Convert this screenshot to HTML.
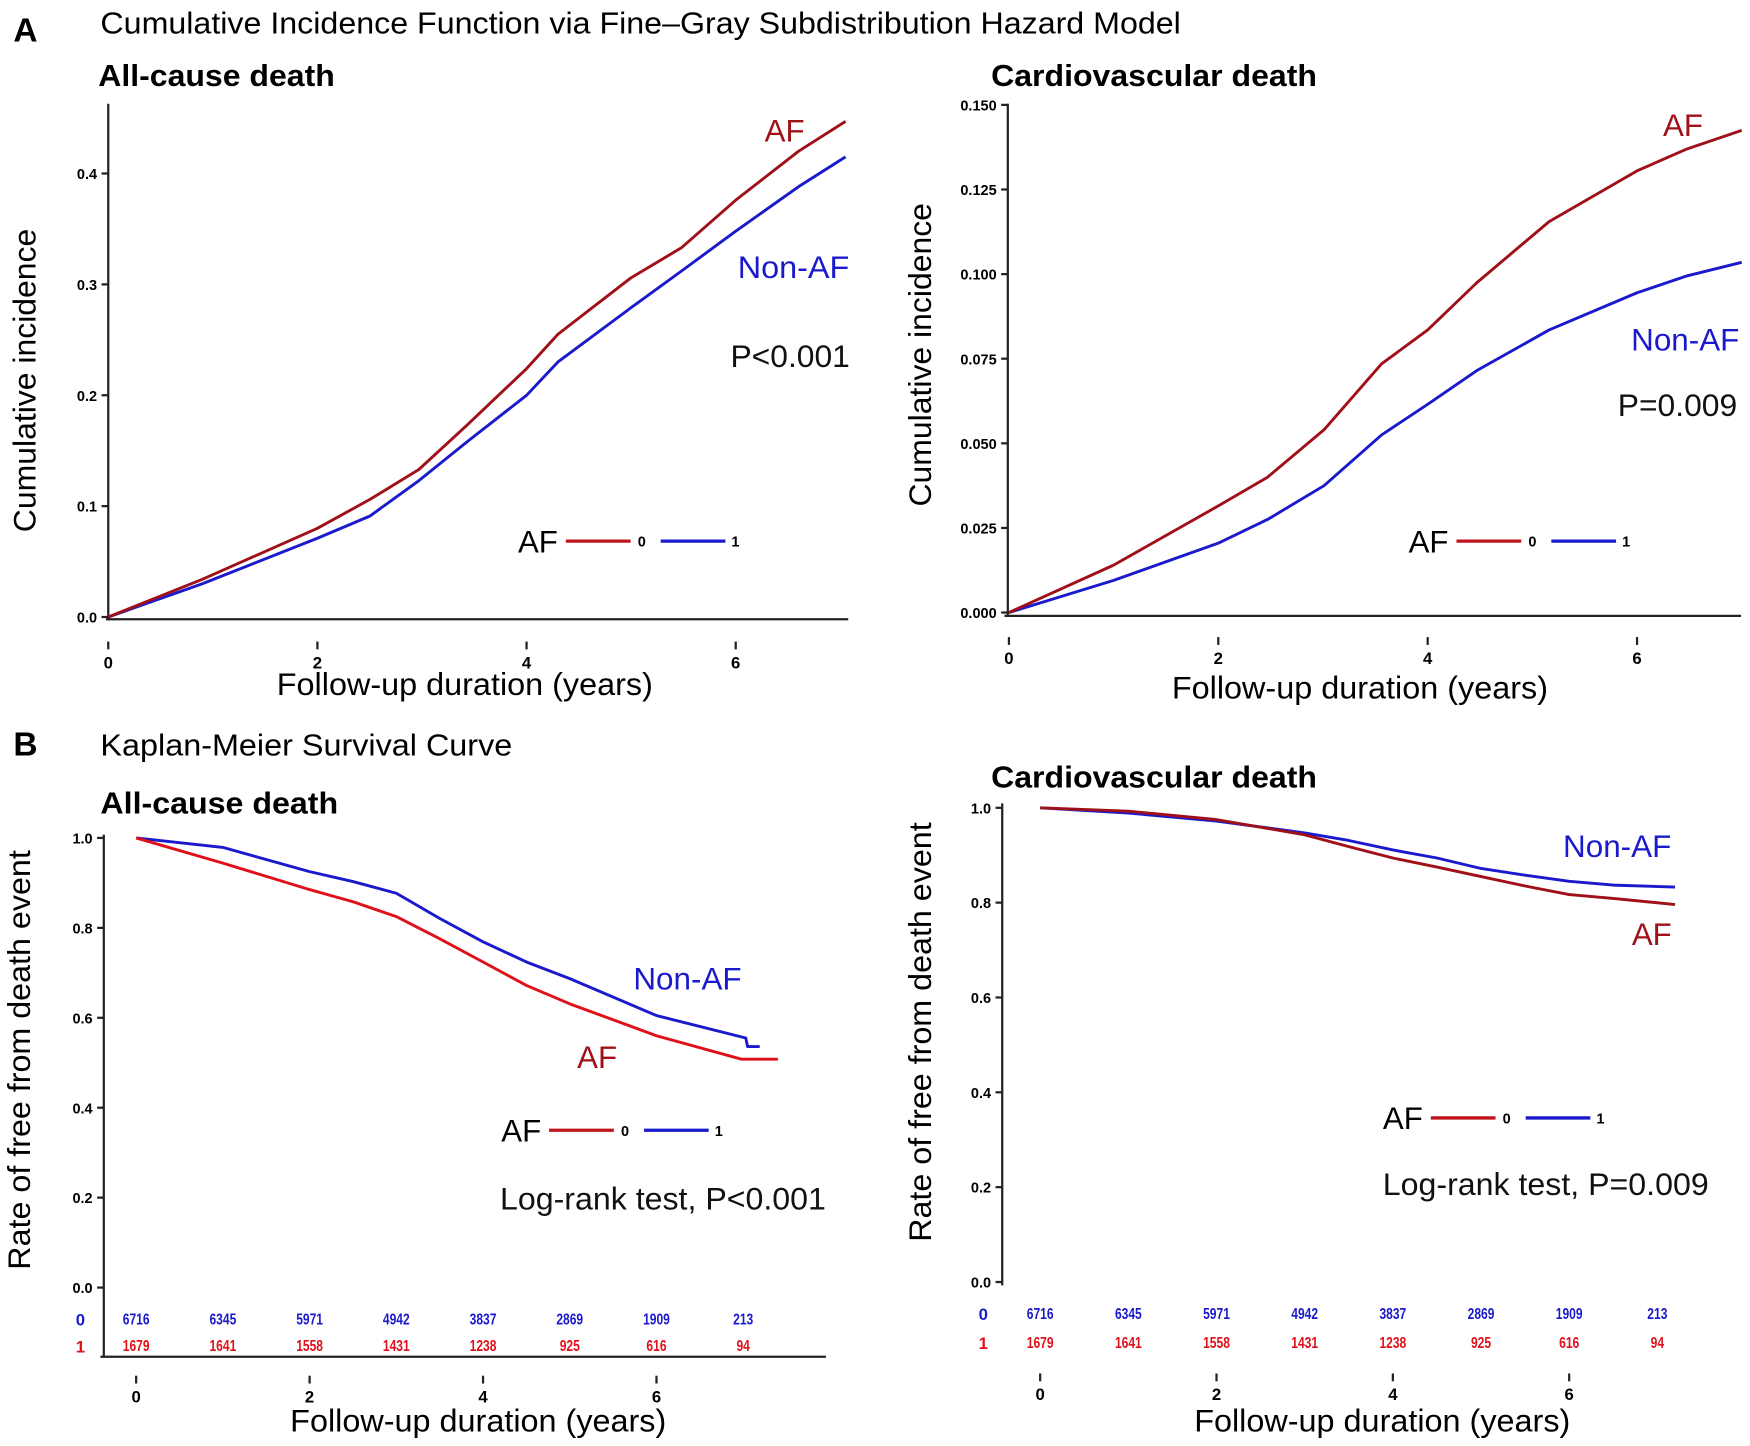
<!DOCTYPE html>
<html><head><meta charset="utf-8"><style>
html,body{margin:0;padding:0;background:#fff;}
svg{display:block;font-family:"Liberation Sans",Arial,sans-serif;}
</style></head><body>
<svg id="fig" width="1750" height="1446" viewBox="0 0 1568 1296" preserveAspectRatio="none">
<text x="12" y="37" font-size="30" font-weight="bold">A</text>
<text x="90" y="30" font-size="27" textLength="968" lengthAdjust="spacingAndGlyphs">Cumulative Incidence Function via Fine–Gray Subdistribution Hazard Model</text>
<text x="88" y="77" font-size="27" font-weight="bold" textLength="212" lengthAdjust="spacingAndGlyphs">All-cause death</text>
<text x="888" y="77" font-size="27" font-weight="bold" textLength="292" lengthAdjust="spacingAndGlyphs">Cardiovascular death</text>
<text x="12" y="677" font-size="30" font-weight="bold">B</text>
<text x="90" y="677" font-size="27" textLength="369" lengthAdjust="spacingAndGlyphs">Kaplan-Meier Survival Curve</text>
<text x="90" y="729" font-size="27" font-weight="bold" textLength="213" lengthAdjust="spacingAndGlyphs">All-cause death</text>
<text x="888" y="706" font-size="27" font-weight="bold" textLength="292" lengthAdjust="spacingAndGlyphs">Cardiovascular death</text>
<g id="charts"></g>
</svg>
<script>
// ---- data ----
const aLeftYears = [0,0.9,2,2.5,2.97,3.43,4,4.3,5,5.48,6,6.6,7.05];
const aLeftAF    = [0,0.034,0.080,0.106,0.133,0.173,0.224,0.255,0.306,0.333,0.376,0.420,0.447];
const aLeftNon   = [0,0.030,0.071,0.091,0.123,0.158,0.200,0.230,0.279,0.312,0.348,0.388,0.415];
const aLeftTicks = ["0.0","0.1","0.2","0.3","0.4"];
const aRightYears= [0,1,2,2.47,3.01,3.56,4,4.47,5.16,6,6.48,7.0];
const aRightAF   = [0,0.014,0.0315,0.040,0.054,0.0735,0.0835,0.0975,0.1155,0.1305,0.137,0.1425];
const aRightNon  = [0,0.0095,0.0205,0.0275,0.0375,0.0525,0.0615,0.0715,0.0835,0.0945,0.0995,0.1035];
const aRightTicks= ["0.000","0.025","0.050","0.075","0.100","0.125","0.150"];
const bLeftAFYears  = [0,1,2,2.5,3,3.5,4,4.5,5,6,6.98,7.4];
const bLeftAF       = [1,0.944,0.885,0.858,0.825,0.776,0.724,0.672,0.631,0.56,0.508,0.508];
const bLeftNonYears = [0,1,2,2.5,3,3.5,4,4.5,5,6,7.03,7.05,7.19];
const bLeftNon      = [1,0.979,0.925,0.903,0.877,0.821,0.769,0.724,0.687,0.605,0.555,0.536,0.536];
const bRightYears= [0,1,2,3,3.5,4,4.5,5,5.5,6,6.5,7.2];
const bRightAF   = [1,0.993,0.975,0.943,0.918,0.894,0.875,0.855,0.835,0.817,0.809,0.796];
const bRightNon  = [1,0.989,0.972,0.947,0.931,0.911,0.894,0.872,0.858,0.845,0.837,0.833];
const bTicks     = ["0.0","0.2","0.4","0.6","0.8","1.0"];
const xTicks     = ["0","2","4","6"];
const riskNon    = ["6716","6345","5971","4942","3837","2869","1909","213"];
const riskAF     = ["1679","1641","1558","1431","1238","925","616","94"];

const NS="http://www.w3.org/2000/svg";
const root=document.getElementById('charts');
function mk(tag,attrs,parent,text){const e=document.createElementNS(NS,tag);for(const k in attrs)e.setAttribute(k,attrs[k]);if(text!==undefined)e.textContent=text;(parent||root).appendChild(e);return e;}
const RED="#c0141c", DRED="#a01018", BLUE="#1a1acc";

function panel(cfg){
  const g=mk('g',{});
  
  
  const sx=v=>cfg.x0+v*cfg.xs, sy=v=>cfg.y0-(v/cfg.ymax)*cfg.yh;
  const ax=mk('line',{x1:cfg.axX,y1:cfg.axTop,x2:cfg.axX,y2:cfg.axBot,stroke:'#222','stroke-width':2},g);
  
  
  if(cfg.xLine){const xl=mk('line',{x1:cfg.xLine[0],y1:cfg.xLine[2],x2:cfg.xLine[1],y2:cfg.xLine[2],stroke:'#222','stroke-width':2},g);
    
    }
  cfg.yTicks.forEach((t,i)=>{const v=i*cfg.ymax/(cfg.yTicks.length-1);const y=sy(v);
    mk('line',{x1:cfg.axX-6,y1:y,x2:cfg.axX,y2:y,stroke:'#222','stroke-width':2},g);
    const tx=mk('text',{x:cfg.axX-10,y:y+5,'font-size':13,'font-weight':'bold','text-anchor':'end'},g,t);
    
    });
  xTicks.forEach(t=>{const x=sx(+t);
    mk('line',{x1:x,y1:cfg.xTickY-12,x2:x,y2:cfg.xTickY-5,stroke:'#222','stroke-width':2},g);
    const tx=mk('text',{x:x,y:cfg.xTickY+12,'font-size':15,'font-weight':'bold','text-anchor':'middle'},g,t);
    
    });
  const xt=mk('text',{x:cfg.xTitle[0]-168,y:cfg.xTitle[1],'font-size':28,textLength:337,lengthAdjust:'spacingAndGlyphs'},g,'Follow-up duration (years)');
  
  
  const yt=mk('text',{x:-cfg.yTitleLen/2,y:0,'font-size':28,textLength:cfg.yTitleLen,lengthAdjust:'spacingAndGlyphs',transform:`translate(${cfg.yTitle[0]},${cfg.yTitle[1]}) rotate(-90)`},g,cfg.yTitleText);
  
  
  cfg.series.forEach(s=>{
    const pts=s.x.map((xv,i)=>sx(xv).toFixed(1)+','+sy(s.y[i]).toFixed(1)).join(' ');
    const p=mk('polyline',{points:pts,fill:'none',stroke:s.c,'stroke-width':2.6,'stroke-linejoin':'round'},g);
    
    });
  cfg.labels.forEach(l=>{const a={x:l[0],y:l[1],'font-size':28,fill:l[3],'text-anchor':'middle'};
    if(l[4]){a.textLength=l[4];a.lengthAdjust='spacingAndGlyphs';a.x=l[0]-l[4]/2;a['text-anchor']='start';}
    const t=mk('text',a,g,l[2]);
    
    });
  const L=cfg.legend;const lg=mk('g',{},g);
  
  
  mk('text',{x:L[0],y:L[1]+10,'font-size':28,'text-anchor':'middle'},lg,'AF');
  mk('line',{x1:L[0]+25,y1:L[1],x2:L[0]+83,y2:L[1],stroke:RED,'stroke-width':3},lg);
  mk('text',{x:L[0]+93,y:L[1]+5,'font-size':13,'font-weight':'bold','text-anchor':'middle'},lg,'0');
  mk('line',{x1:L[0]+110,y1:L[1],x2:L[0]+168,y2:L[1],stroke:BLUE,'stroke-width':3},lg);
  mk('text',{x:L[0]+177,y:L[1]+5,'font-size':13,'font-weight':'bold','text-anchor':'middle'},lg,'1');
  if(cfg.risk){const r=cfg.risk;
    mk('text',{x:r.lx,y:r.y0+6,'font-size':15,'font-weight':'bold',fill:BLUE,'text-anchor':'middle'},g,'0');
    mk('text',{x:r.lx,y:r.y1+6,'font-size':15,'font-weight':'bold',fill:'#e0101a','text-anchor':'middle'},g,'1');
    riskNon.forEach((v,i)=>{const w=v.length*6;const t=mk('text',{x:sx(i)-w/2,y:r.y0+5,'font-size':14,'font-weight':'bold',fill:BLUE,textLength:w,lengthAdjust:'spacingAndGlyphs'},g,v);
      
      });
    riskAF.forEach((v,i)=>{const w=v.length*6;const t=mk('text',{x:sx(i)-w/2,y:r.y1+5,'font-size':14,'font-weight':'bold',fill:'#e0101a',textLength:w,lengthAdjust:'spacingAndGlyphs'},g,v);
      
      });
  }
}

panel({name:'chart-a-all-cause',x0:97,xs:93.7,y0:553,yh:397.5,ymax:0.4,axX:97,axTop:93,axBot:556,
  xLine:[95,760,555],xTickY:587,yTicks:aLeftTicks,xTitle:[416,623],yTitle:[32,341],yTitleLen:272,yTitleText:'Cumulative incidence',
  series:[{x:aLeftYears,y:aLeftNon,c:BLUE,n:'line-nonaf'},{x:aLeftYears,y:aLeftAF,c:DRED,n:'line-af'}],
  labels:[[703,127,'AF',DRED,0,'label-af'],[711,249,'Non-AF',BLUE,100,'label-nonaf'],[708,329,'P<0.001','#111',107,'p-value']],
  legend:[482,485]});
panel({name:'chart-a-cardiovascular',x0:904,xs:93.8,y0:549,yh:455,ymax:0.150,axX:903,axTop:93,axBot:552,
  xLine:[900,1560,552],xTickY:583,yTicks:aRightTicks,xTitle:[1218,626],yTitle:[834,318],yTitleLen:272,yTitleText:'Cumulative incidence',
  series:[{x:aRightYears,y:aRightNon,c:BLUE,n:'line-nonaf'},{x:aRightYears,y:aRightAF,c:DRED,n:'line-af'}],
  labels:[[1508,122,'AF',DRED,0,'label-af'],[1510,314,'Non-AF',BLUE,97,'label-nonaf'],[1503,373,'P=0.009','#111',107,'p-value']],
  legend:[1280,485]});
panel({name:'chart-b-all-cause',x0:122,xs:77.7,y0:1154,yh:403,ymax:1,axX:93,axTop:748,axBot:1216,
  xLine:[90,740,1216],xTickY:1245,yTicks:bTicks,xTitle:[428,1283],yTitle:[27,950],yTitleLen:376,yTitleText:'Rate of free from death event',
  series:[{x:bLeftNonYears,y:bLeftNon,c:BLUE,n:'line-nonaf'},{x:bLeftAFYears,y:bLeftAF,c:'#e0101a',n:'line-af'}],
  labels:[[616,887,'Non-AF',BLUE,97,'label-nonaf'],[535,957,'AF',DRED,0,'label-af'],[594,1084,'Log-rank test, P<0.001','#111',292,'log-rank-p']],
  legend:[467,1013],risk:{lx:72,y0:1182,y1:1206}});
panel({name:'chart-b-cardiovascular',x0:932,xs:79,y0:1149,yh:425,ymax:1,axX:898,axTop:720,axBot:1152,
  xLine:null,xTickY:1243,yTicks:bTicks,xTitle:[1238,1283],yTitle:[834,925],yTitleLen:376,yTitleText:'Rate of free from death event',
  series:[{x:bRightYears,y:bRightNon,c:BLUE,n:'line-nonaf'},{x:bRightYears,y:bRightAF,c:DRED,n:'line-af'}],
  labels:[[1449,768,'Non-AF',BLUE,97,'label-nonaf'],[1480,847,'AF',DRED,0,'label-af'],[1385,1071,'Log-rank test, P=0.009','#111',292,'log-rank-p']],
  legend:[1257,1002],risk:{lx:881,y0:1177,y1:1203}});
</script>
</body></html>
